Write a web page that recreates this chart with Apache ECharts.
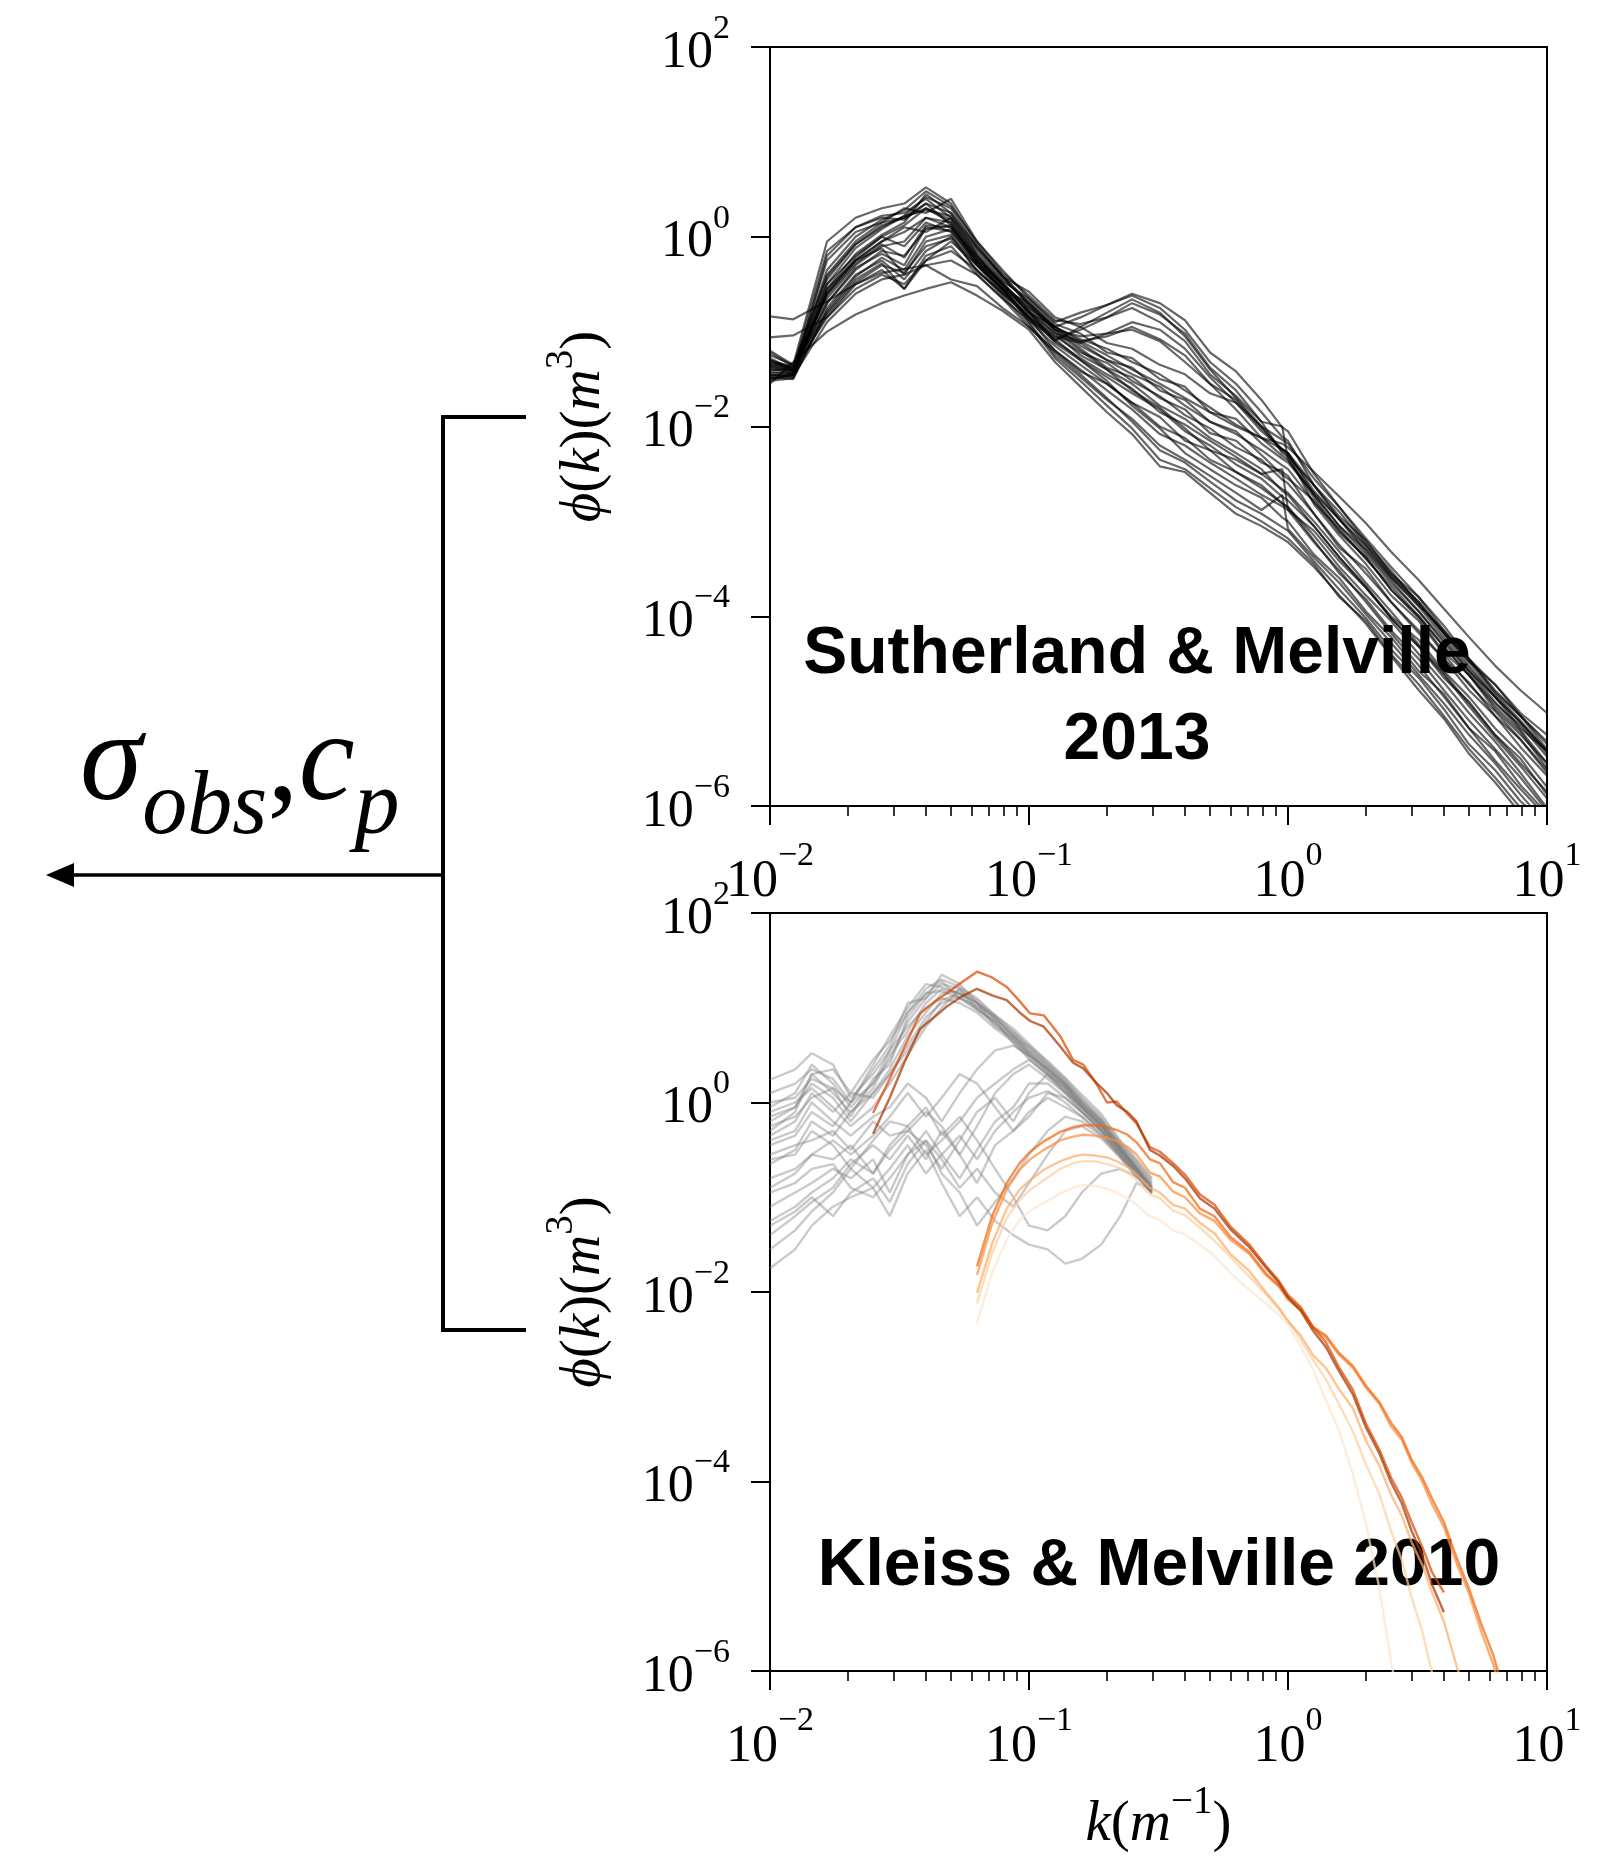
<!DOCTYPE html>
<html>
<head>
<meta charset="utf-8">
<script src="https://cdn.jsdelivr.net/npm/echarts@6/dist/echarts.min.js"></script>
<style>html,body{margin:0;padding:0;background:#fff}#c{width:1599px;height:1859px}</style>
</head>
<body>
<div id="c"></div>
<script>
// ---------------- DATA (phi values stored as log10 phi) ----------------
const majorK = [0.01, 0.1, 1, 10];
const minorK = [0.02,0.03,0.04,0.05,0.06,0.07,0.08,0.09,0.2,0.3,0.4,0.5,0.6,0.7,0.8,0.9,2,3,4,5,6,7,8,9];
const majorPhi = [1e-6, 1e-4, 1e-2, 1, 100];

// Sutherland & Melville 2013 (top panel)
const smK = [0.01,0.0123,0.0166,0.0214,0.027,0.033,0.04,0.05,0.063,0.079,0.1,0.126,0.158,0.2,0.25,0.32,0.4,0.5,0.63,0.79,0.95,1.0,1.26,1.58,2.0,2.5,3.2,4.0,5.0,6.3,7.9,10];
const smLogPhi = [
 [-1.30,-1.38,-0.15,0.10,0.20,0.18,0.35,0.12,-0.28,-0.55, -0.70,-0.98,-1.12,-1.30,-1.38,-1.62,-1.72,-1.95,-2.05,-2.30,-2.51,-2.55,-2.78,-3.12,-3.38,-3.72,-4.02,-4.38,-4.62,-4.98,-5.25,-5.55],
 [-1.45,-1.48,-0.55,-0.18,0.02,0.15,0.45,0.25,-0.18,-0.47, -0.65,-0.92,-1.02,-1.22,-1.28,-1.50,-1.58,-1.85,-1.92,-2.18,-2.34,-2.38,-2.70,-2.98,-3.32,-3.62,-3.95,-4.25,-4.58,-4.85,-5.18,-5.42],
 [-1.25,-1.35,-0.05,0.20,0.30,0.35,0.52,0.35,-0.08,-0.42, -0.58,-0.85,-0.95,-1.12,-1.18,-1.35,-1.45,-1.65,-1.75,-2.00,-2.14,-2.18,-2.55,-2.85,-3.22,-3.52,-3.88,-4.15,-4.48,-4.72,-5.02,-5.25],
 [-1.50,-1.45,-0.70,-0.33,-0.18,-0.30,0.10,0.06,-0.27,-0.53, -0.78,-1.10,-1.28,-1.45,-1.60,-1.85,-1.98,-2.15,-2.32,-2.50,-2.66,-2.70,-3.00,-3.32,-3.65,-3.95,-4.30,-4.60,-4.92,-5.25,-5.55,-5.85],
 [-1.35,-1.40,-0.60,-0.25,-0.12,-0.40,-0.05,0.02,-0.37,-0.58, -0.85,-1.20,-1.40,-1.62,-1.82,-2.08,-2.20,-2.38,-2.55,-2.72,-2.84,-2.88,-3.22,-3.52,-3.85,-4.18,-4.52,-4.85,-5.18,-5.52,-5.82,-6.12],
 [-1.40,-1.42,-0.45,-0.08,0.12,0.20,0.30,0.15,-0.25,-0.50, -0.80,-0.95,-0.85,-0.72,-0.62,-0.75,-0.98,-1.32,-1.55,-1.85,-2.11,-2.15,-2.62,-2.98,-3.28,-3.58,-3.90,-4.22,-4.55,-4.85,-5.12,-5.45],
 [-1.20,-1.35,-0.80,-0.45,-0.28,-0.55,-0.20,-0.10,-0.40,-0.65, -0.88,-1.08,-0.98,-0.85,-0.70,-0.82,-1.02,-1.38,-1.62,-1.95,-2.00,-2.35,-2.75,-3.10,-3.38,-3.72,-4.00,-4.32,-4.62,-4.95,-5.22,-5.60],
 [-0.84,-0.87,-0.68,-0.50,-0.38,-0.34,-0.30,-0.45,-0.52,-0.75, -0.95,-1.20,-1.42,-1.55,-1.75,-1.90,-2.15,-2.25,-2.48,-2.62,-2.81,-2.85,-3.15,-3.48,-3.78,-4.05,-4.40,-4.70,-5.02,-5.32,-5.65,-6.02],
 [-1.55,-1.32,-1.00,-0.82,-0.70,-0.62,-0.55,-0.48,-0.62,-0.78, -0.98,-1.32,-1.58,-1.85,-2.08,-2.42,-2.48,-2.70,-2.92,-3.05,-3.18,-3.22,-3.48,-3.78,-4.08,-4.42,-4.78,-5.08,-5.45,-5.75,-6.08,-6.30],
 [-1.06,-1.04,-0.85,-0.55,-0.40,-0.50,-0.25,-0.15,-0.35,-0.60, -0.82,-1.05,-1.22,-1.33,-1.52,-1.68,-1.88,-2.02,-2.22,-2.35,-2.56,-2.60,-2.92,-3.25,-3.55,-3.85,-4.18,-4.45,-4.78,-5.05,-5.38,-5.68],
 [-1.42,-1.45,-0.20,0.10,0.22,0.25,0.40,0.20,-0.15,-0.45, -0.68,-0.95,-1.08,-1.18,-1.32,-1.45,-1.62,-1.80,-1.98,-2.12,-2.24,-2.28,-2.62,-2.90,-3.25,-3.55,-3.85,-4.18,-4.45,-4.78,-5.05,-5.35],
 [-1.38,-1.44,-0.65,-0.30,-0.10,-0.05,0.20,0.15,-0.20,-0.50, -0.80,-1.02,-1.25,-1.40,-1.62,-1.80,-2.02,-2.25,-2.35,-2.50,-2.45,-2.88,-3.10,-3.42,-3.70,-4.02,-4.32,-4.65,-4.90,-5.25,-5.50,-5.88],
 [-1.48,-1.50,-0.75,-0.40,-0.25,-0.45,-0.15,0.00,-0.30,-0.55, -0.85,-1.08,-1.30,-1.52,-1.78,-2.02,-2.28,-2.45,-2.62,-2.75,-2.96,-3.00,-3.35,-3.60,-3.95,-4.22,-4.58,-4.82,-5.18,-5.42,-5.78,-6.08],
 [-1.32,-1.36,-0.40,-0.05,0.15,0.30,0.25,0.40,-0.05,-0.35, -0.65,-0.90,-0.80,-0.72,-0.60,-0.70,-0.88,-1.22,-1.42,-1.72,-2.01,-2.05,-2.50,-2.85,-3.18,-3.48,-3.80,-4.10,-4.45,-4.72,-5.05,-5.32],
 [-1.28,-1.40,-0.50,-0.20,0.00,-0.10,0.15,0.05,-0.30,-0.55, -0.85,-1.05,-1.12,-1.02,-0.98,-1.10,-1.32,-1.55,-1.72,-2.02,-2.24,-2.28,-2.72,-3.05,-3.35,-3.65,-3.95,-4.28,-4.58,-4.90,-5.20,-5.55],
 [-1.50,-1.47,-0.90,-0.60,-0.45,-0.40,-0.30,-0.25,-0.40,-0.65, -0.95,-1.22,-1.45,-1.70,-1.95,-2.25,-2.38,-2.58,-2.78,-2.92,-3.06,-3.10,-3.42,-3.72,-4.02,-4.35,-4.65,-4.98,-5.35,-5.62,-5.95,-6.20],
 [-1.36,-1.41,-0.25,0.05,0.15,0.20,0.35,0.25,-0.10,-0.40, -0.70,-0.95,-1.15,-1.30,-1.45,-1.58,-1.78,-1.95,-2.08,-2.25,-2.41,-2.45,-2.80,-3.08,-3.40,-3.68,-4.00,-4.32,-4.62,-4.92,-5.15,-5.48],
 [-1.44,-1.43,-0.55,-0.25,-0.05,0.10,0.05,0.20,-0.20,-0.50, -0.75,-1.00,-1.20,-1.40,-1.55,-1.78,-1.92,-2.12,-2.28,-2.45,-2.68,-2.72,-3.05,-3.38,-3.70,-4.00,-4.25,-4.58,-4.85,-5.18,-5.45,-5.80],
 [-1.40,-1.40,-0.60,-0.25,-0.05,0.05,0.20,0.10,-0.25,-0.50, -0.75,-0.95,-1.10,-1.25,-1.40,-1.55,-1.70,-1.85,-2.00,-2.12,-2.18,-2.22,-2.48,-2.74,-3.02,-3.32,-3.62,-3.92,-4.22,-4.52,-4.78,-5.02],
 [-1.33,-1.39,-0.85,-0.50,-0.35,-0.55,-0.25,-0.05,-0.30,-0.60, -0.85,-1.10,-0.95,-0.80,-0.66,-0.80,-1.05,-1.40,-1.70,-2.00,-2.26,-2.30,-2.82,-3.15,-3.45,-3.78,-4.05,-4.40,-4.72,-5.00,-5.30,-5.65],
 [-1.46,-1.46,-0.50,-0.12,0.08,0.22,0.42,0.30,-0.12,-0.42, -0.72,-0.98,-1.18,-1.38,-1.48,-1.70,-1.82,-2.07,-2.15,-2.38,-2.48,-2.52,-2.92,-3.28,-3.50,-3.85,-4.15,-4.45,-4.70,-5.05,-5.30,-5.62],
 [-1.22,-1.37,-0.62,-0.28,-0.08,-0.22,0.12,0.10,-0.22,-0.48, -0.78,-1.02,-1.10,-1.05,-0.95,-1.08,-1.25,-1.55,-1.82,-2.12,-2.31,-2.35,-2.72,-3.05,-3.30,-3.60,-3.88,-4.18,-4.52,-4.85,-5.12,-5.42],
 [-1.52,-1.49,-0.78,-0.42,-0.22,-0.35,0.00,0.08,-0.28,-0.57, -0.88,-1.15,-1.35,-1.55,-1.75,-2.00,-2.12,-2.35,-2.48,-2.65,-2.81,-2.85,-3.20,-3.55,-3.82,-4.15,-4.45,-4.78,-5.10,-5.40,-5.70,-6.05],
 [-1.30,-1.42,-0.35,0.00,0.18,0.28,0.48,0.32,-0.05,-0.38, -0.62,-0.88,-0.92,-0.85,-0.75,-0.90,-1.10,-1.45,-1.68,-1.95,-2.28,-2.32,-2.62,-2.95,-3.20,-3.55,-3.80,-4.15,-4.45,-4.80,-5.05,-5.40],
 [-1.47,-1.44,-0.58,-0.22,0.00,0.12,0.30,0.18,-0.22,-0.52, -0.90,-1.25,-1.48,-1.72,-1.92,-2.20,-2.35,-2.52,-2.70,-2.88,-2.72,-3.08,-3.38,-3.65,-3.98,-4.28,-4.62,-4.92,-5.25,-5.55,-5.88,-6.20],
 [-1.37,-1.41,-0.70,-0.35,-0.15,-0.20,0.08,0.12,-0.25,-0.55, -0.80,-1.12,-1.30,-1.48,-1.65,-1.82,-2.05,-2.20,-2.40,-2.55,-2.74,-2.78,-3.05,-3.38,-3.68,-4.02,-4.32,-4.62,-4.95,-5.28,-5.58,-5.92],
 [-1.34,-1.38,-0.42,-0.08,0.10,0.22,0.28,0.22,-0.12,-0.42, -0.72,-0.98,-1.05,-1.02,-0.90,-0.98,-1.18,-1.48,-1.75,-2.05,-2.24,-2.28,-2.68,-2.98,-3.25,-3.58,-3.85,-4.18,-4.48,-4.82,-5.10,-5.42],
 [-1.49,-1.46,-0.82,-0.48,-0.30,-0.38,-0.10,-0.02,-0.35,-0.62, -0.92,-1.28,-1.52,-1.78,-2.02,-2.35,-2.45,-2.65,-2.85,-3.00,-3.14,-3.18,-3.45,-3.80,-4.05,-4.40,-4.72,-5.05,-5.40,-5.70,-6.02,-6.25]
];

// Kleiss & Melville 2010 (bottom panel) - grey spectra
const kmGrayK = [0.01,0.0125,0.0145,0.0175,0.0205,0.025,0.029,0.034,0.04,0.046,0.054,0.063,0.074,0.087,0.1,0.118,0.138,0.16,0.19,0.225,0.26,0.298];
const kmGrayLogPhi = [
 [0.24,0.35,0.52,0.40,0.05,0.30,0.55,0.95,1.20,1.30,1.22,1.10,0.92,0.78,0.62,0.42,0.25,0.05,-0.15,-0.42,-0.62,-0.82],
 [-0.05,0.10,0.40,0.20,-0.05,0.20,0.45,0.85,1.10,1.35,1.25,1.05,0.88,0.72,0.55,0.38,0.20,0.00,-0.20,-0.48,-0.70,-0.90],
 [-0.30,-0.10,0.30,0.10,-0.10,0.15,0.50,0.75,1.05,1.20,1.15,1.00,0.85,0.66,0.52,0.32,0.15,-0.05,-0.25,-0.50,-0.72,-0.92],
 [0.10,0.20,0.35,0.25,0.00,0.35,0.60,1.05,1.10,1.25,1.20,1.08,0.90,0.70,0.58,0.40,0.22,0.02,-0.18,-0.45,-0.66,-0.86],
 [-0.20,-0.05,0.20,0.05,-0.20,0.10,0.35,0.70,0.95,1.15,1.18,1.05,0.80,0.68,0.50,0.35,0.18,-0.02,-0.22,-0.50,-0.68,-0.95],
 [-0.35,-0.20,0.10,-0.10,0.10,0.05,0.30,0.60,0.90,1.05,1.12,0.98,0.86,0.62,0.48,0.30,0.12,-0.08,-0.28,-0.52,-0.74,-0.94],
 [0.00,0.05,0.25,0.15,-0.15,0.25,0.40,0.90,1.15,1.28,1.10,1.02,0.90,0.74,0.60,0.44,0.26,0.08,-0.12,-0.40,-0.60,-0.80],
 [-0.45,-0.35,-0.10,-0.25,0.00,0.20,0.55,0.80,1.00,1.10,1.05,0.95,0.78,0.64,0.46,0.28,0.10,-0.10,-0.30,-0.55,-0.75,-0.96],
 [-0.10,0.00,0.15,-0.05,-0.25,-0.05,0.20,0.50,0.80,1.00,1.20,1.00,0.84,0.70,0.54,0.36,0.20,0.00,-0.20,-0.46,-0.68,-0.88],
 [-0.25,-0.15,0.05,0.15,0.00,0.40,0.70,1.00,1.25,1.22,1.15,1.05,0.92,0.75,0.58,0.40,0.22,0.03,-0.18,-0.44,-0.64,-0.85],
 [-0.15,-0.05,0.30,0.35,0.10,0.45,0.65,0.95,1.15,1.18,1.10,0.98,0.82,0.66,0.50,0.33,0.16,-0.04,-0.24,-0.50,-0.70,-0.90],
 [-0.65,-0.50,-0.20,-0.35,-0.10,0.10,0.30,0.55,0.85,1.08,1.15,1.05,0.88,0.70,0.53,0.36,0.18,-0.03,-0.23,-0.49,-0.71,-0.91],
 [-0.55,-0.45,-0.40,-0.30,-0.50,-0.20,-0.35,-0.30,-0.10,-0.25,-0.55,-0.25,0.10,0.30,0.40,0.25,0.10,-0.05,-0.25,-0.50,-0.70,-0.90],
 [-0.80,-0.70,-0.55,-0.60,-0.45,-0.75,-0.50,-0.30,-0.45,-0.70,-0.40,-0.10,0.05,-0.20,0.10,0.30,0.15,-0.05,-0.28,-0.52,-0.72,-0.93],
 [-1.10,-0.95,-0.85,-0.70,-0.80,-0.60,-0.95,-0.55,-0.30,-0.55,-0.80,-0.50,-0.20,-0.05,0.20,0.20,0.05,-0.10,-0.30,-0.55,-0.76,-0.95],
 [-1.40,-1.20,-1.05,-0.90,-0.65,-0.45,-0.60,-0.35,-0.60,-0.30,-0.55,-0.85,-0.45,-0.30,-0.10,0.05,-0.05,-0.15,-0.35,-0.58,-0.78,-0.96],
 [-1.75,-1.55,-1.30,-1.10,-1.00,-0.90,-1.20,-0.75,-0.50,-0.85,-1.20,-1.00,-1.25,-1.40,-1.50,-1.55,-1.70,-1.65,-1.50,-1.20,-0.85,-0.92],
 [-0.95,-0.85,-0.70,-0.65,-0.90,-1.00,-0.80,-0.55,-0.40,-0.75,-0.95,-1.30,-1.05,-0.80,-0.55,-0.30,-0.15,-0.20,-0.35,-0.55,-0.75,-0.92],
 [-0.60,-0.55,-0.30,-0.45,-0.70,-0.40,-0.20,-0.25,-0.05,-0.35,-0.15,-0.40,-0.70,-1.00,-1.30,-1.35,-1.20,-0.95,-0.75,-0.70,-0.78,-0.90],
 [-1.25,-1.10,-0.95,-0.80,-0.60,-0.75,-0.45,-0.25,-0.55,-0.40,-0.20,0.05,0.20,0.35,0.45,0.30,0.12,-0.05,-0.25,-0.48,-0.70,-0.91],
 [-0.40,-0.30,0.00,-0.20,-0.35,-0.15,-0.05,0.20,0.05,-0.20,0.10,0.35,0.55,0.60,0.50,0.35,0.18,-0.02,-0.22,-0.47,-0.69,-0.89],
 [-1.55,-1.35,-1.15,-0.95,-0.70,-0.90,-0.70,-0.45,-0.75,-0.55,-0.35,-0.60,-0.30,-0.10,0.05,0.12,0.00,-0.15,-0.32,-0.56,-0.76,-0.94],
 [-0.90,-0.75,-0.55,-0.40,-0.55,-0.35,-0.15,0.10,-0.15,0.05,0.30,0.20,-0.05,-0.30,-0.15,0.10,0.05,-0.10,-0.30,-0.53,-0.74,-0.93],
 [-1.30,-1.15,-1.00,-1.20,-0.95,-0.80,-1.05,-0.65,-0.40,-0.60,-0.90,-0.70,-0.95,-1.10,-0.85,-0.55,-0.30,-0.25,-0.38,-0.58,-0.78,-0.95]
];

// Kleiss & Melville 2010 - coloured spectra (Oranges), null = not measured
const kmOrangeK = [0.025,0.029,0.033,0.038,0.043,0.048,0.055,0.063,0.072,0.082,0.092,0.101,0.114,0.132,0.148,0.162,0.18,0.2,0.218,0.24,0.26,0.293,0.32,0.36,0.4,0.457,0.52,0.6,0.71,0.82,0.92,1.0,1.12,1.25,1.4,1.57,1.78,2.0,2.25,2.5,2.75,3.0,3.3,3.6,4.0,4.5,5.0,5.6,6.2,6.8];
const kmRun1 = [null,null,null,null,null,null,null,-2.33,-1.80,-1.45,-1.24,-1.14,-1.06,-0.96,-0.90,-0.87,-0.88,-0.91,-0.95,-1.01,-1.08,-1.20,-1.24,-1.35,-1.39,-1.50,-1.62,-1.80,-1.98,-2.12,-2.24,-2.34,-2.58,-2.82,-3.14,-3.46,-3.92,-4.45,-5.12,-5.90,-6.50,null,null,null,null,null,null,null,null,null];
const kmRun2 = [null,null,null,null,null,null,null,-2.12,-1.59,-1.22,-1.03,-0.92,-0.82,-0.70,-0.64,-0.62,-0.62,-0.65,-0.68,-0.74,-0.82,-0.97,-1.01,-1.14,-1.19,-1.32,-1.46,-1.63,-1.84,-2.02,-2.18,-2.30,-2.50,-2.72,-2.92,-3.18,-3.47,-3.82,-4.13,-4.52,-4.83,-5.22,-5.58,-6.02,-6.45,null,null,null,null,null];
const kmRun3 = [null,null,null,null,null,null,null,-2.01,-1.49,-1.12,-0.92,-0.82,-0.71,-0.62,-0.57,-0.55,-0.56,-0.58,-0.62,-0.68,-0.76,-0.90,-0.95,-1.08,-1.12,-1.27,-1.38,-1.60,-1.78,-2.00,-2.16,-2.31,-2.46,-2.67,-2.80,-3.02,-3.23,-3.57,-3.83,-4.14,-4.36,-4.64,-4.88,-5.17,-5.48,-5.97,-6.30,null,null,null];
const kmRun4 = [null,null,null,null,null,null,null,-1.82,-1.28,-0.92,-0.71,-0.60,-0.50,-0.40,-0.36,-0.34,-0.35,-0.37,-0.41,-0.47,-0.55,-0.74,-0.78,-0.94,-1.00,-1.17,-1.25,-1.45,-1.60,-1.82,-1.94,-2.08,-2.19,-2.38,-2.48,-2.66,-2.80,-3.01,-3.18,-3.42,-3.56,-3.80,-4.00,-4.24,-4.48,-4.88,-5.18,-5.60,-5.93,-6.32];
const kmRun5 = [null,null,null,null,null,null,null,-1.73,-1.20,-0.85,-0.64,-0.52,-0.41,-0.31,-0.26,-0.24,-0.24,-0.26,-0.29,-0.34,-0.42,-0.60,-0.64,-0.84,-0.90,-1.12,-1.20,-1.42,-1.58,-1.80,-1.93,-2.06,-2.18,-2.37,-2.46,-2.64,-2.78,-2.99,-3.16,-3.38,-3.53,-3.77,-3.96,-4.18,-4.43,-4.82,-5.13,-5.52,-5.83,-6.22];
const kmRun6 = [-0.11,0.25,0.58,0.94,1.06,1.15,1.27,1.38,1.32,1.22,1.07,0.94,0.92,0.70,0.45,0.40,0.22,0.00,0.01,-0.12,-0.22,-0.47,-0.52,-0.64,-0.76,-0.97,-1.08,-1.31,-1.50,-1.72,-1.88,-2.03,-2.16,-2.37,-2.53,-2.79,-3.03,-3.39,-3.66,-3.96,-4.17,-4.43,-4.69,-4.96,-5.17,null,null,null,null,null];
const kmRun7 = [-0.33,0.05,0.42,0.78,0.90,1.01,1.12,1.20,1.13,1.08,0.95,0.86,0.80,0.59,0.42,0.36,0.22,0.10,-0.03,-0.10,-0.20,-0.50,-0.56,-0.67,-0.80,-1.01,-1.12,-1.34,-1.53,-1.74,-1.90,-2.06,-2.20,-2.41,-2.58,-2.83,-3.08,-3.43,-3.70,-4.01,-4.23,-4.52,-4.78,-5.09,-5.38,null,null,null,null,null];
const kmRuns = [kmRun1, kmRun2, kmRun3, kmRun4, kmRun5, kmRun6, kmRun7];
const kmRunColors = ['#fee6ce','#fdd0a2','#fdae6b','#fd8d3c','#f16913','#d94801','#a63603'];

// ---------------- CHART ----------------
const SERIF = '"Liberation Serif","Times New Roman",serif';
const SANS = '"Liberation Sans",Arial,Helvetica,sans-serif';

function toPairs(ks, logs) {
  const out = [];
  for (let i = 0; i < ks.length; i++) {
    if (logs[i] === null || logs[i] === undefined) continue;
    out.push([ks[i], Math.pow(10, logs[i])]);
  }
  return out;
}
function sciLabel(v) {
  const e = Math.round(Math.log10(v));
  return '{b|10}{s|' + (e < 0 ? '\u2212' + (-e) : String(e)) + '}';
}
const xRich = {
  b: {fontFamily: SERIF, fontSize: 52, color: '#000'},
  s: {fontFamily: SERIF, fontSize: 34, color: '#000', padding: [0, 0, 52, 0]}
};
const yRich = {
  b: {fontFamily: SERIF, fontSize: 52, color: '#000', padding: [12, 0, 0, 0]},
  s: {fontFamily: SERIF, fontSize: 34, color: '#000', padding: [0, 0, 36, 0]}
};
const nameRich = {
  i: {fontFamily: SERIF, fontStyle: 'italic', fontSize: 57, color: '#000'},
  r: {fontFamily: SERIF, fontSize: 57, color: '#000'},
  s: {fontFamily: SERIF, fontSize: 39, color: '#000', padding: [0, 0, 46, 0]}
};

function xMajor(gridIndex, name) {
  const ax = {
    type: 'log', logBase: 10, gridIndex: gridIndex, min: 0.01, max: 10, position: 'bottom',
    axisLine: {show: true, onZero: false, lineStyle: {color: '#000', width: 2}},
    axisTick: {show: true, inside: false, length: 19, lineStyle: {color: '#000', width: 2}, customValues: majorK},
    axisLabel: {show: true, customValues: majorK, formatter: sciLabel, rich: xRich, margin: 33,
                showMinLabel: true, showMaxLabel: true, hideOverlap: false},
    splitLine: {show: false}, minorTick: {show: false}, minorSplitLine: {show: false}
  };
  if (name) {
    ax.name = name; ax.nameLocation = 'middle'; ax.nameGap = 112;
    ax.nameTextStyle = {rich: nameRich};
  }
  return ax;
}
function xMinor(gridIndex) {
  return {
    type: 'log', logBase: 10, gridIndex: gridIndex, min: 0.01, max: 10, position: 'bottom',
    axisLine: {show: false},
    axisTick: {show: true, inside: false, length: 10, lineStyle: {color: '#000', width: 1.6}, customValues: minorK},
    axisLabel: {show: false}, splitLine: {show: false}
  };
}
function yMajor(gridIndex) {
  return {
    type: 'log', logBase: 10, gridIndex: gridIndex, min: 1e-6, max: 100, position: 'left',
    axisLine: {show: true, onZero: false, lineStyle: {color: '#000', width: 2}},
    axisTick: {show: true, inside: false, length: 19, lineStyle: {color: '#000', width: 2}, customValues: majorPhi},
    axisLabel: {show: true, customValues: majorPhi, formatter: sciLabel, rich: yRich, margin: 40,
                showMinLabel: true, showMaxLabel: true, hideOverlap: false},
    splitLine: {show: false}, minorTick: {show: false},
    name: '{i|\u03d5}{r|(}{i|k}{r|)(}{i|m}{s|3}{r|)}', nameLocation: 'middle', nameRotate: 90, nameGap: 143,
    nameTextStyle: {rich: nameRich}
  };
}

const series = [];
smLogPhi.forEach(function (arr) {
  series.push({type: 'line', xAxisIndex: 0, yAxisIndex: 0, data: toPairs(smK, arr), symbol: 'none',
    showSymbol: false, silent: true, animation: false, z: 2, clip: true,
    lineStyle: {color: 'rgba(0,0,0,0.6)', width: 2.2}});
});
kmGrayLogPhi.forEach(function (arr) {
  series.push({type: 'line', xAxisIndex: 2, yAxisIndex: 1, data: toPairs(kmGrayK, arr), symbol: 'none',
    showSymbol: false, silent: true, animation: false, z: 2, clip: true,
    lineStyle: {color: 'rgba(128,128,128,0.42)', width: 2.4}});
});
kmRuns.forEach(function (arr, i) {
  series.push({type: 'line', xAxisIndex: 2, yAxisIndex: 1, data: toPairs(kmOrangeK, arr), symbol: 'none',
    showSymbol: false, silent: true, animation: false, z: 3, clip: true,
    lineStyle: {color: kmRunColors[i], width: 2.4, opacity: 0.72}});
});

const option = {
  backgroundColor: '#fff',
  animation: false,
  grid: [
    {left: 770, top: 47, width: 777, height: 759, show: true, borderColor: '#000', borderWidth: 2,
     backgroundColor: 'transparent', containLabel: false, outerBoundsMode: 'none'},
    {left: 770, top: 913, width: 777, height: 758, show: true, borderColor: '#000', borderWidth: 2,
     backgroundColor: 'transparent', containLabel: false, outerBoundsMode: 'none'}
  ],
  xAxis: [xMajor(0, null), xMinor(0), xMajor(1, '{i|k}{r|(}{i|m}{s|\u22121}{r|)}'), xMinor(1)],
  yAxis: [yMajor(0), yMajor(1)],
  series: series,
  graphic: [
    {type: 'text', x: 1137, y: 612, z: 1, silent: true,
     style: {text: 'Sutherland & Melville\n2013', font: 'bold 66px ' + SANS, fill: '#000',
             align: 'center', verticalAlign: 'top', textAlign: 'center', textVerticalAlign: 'top', lineHeight: 86}},
    {type: 'text', x: 1159, y: 1567, z: 1, silent: true,
     style: {text: 'Kleiss & Melville 2010', font: 'bold 66px ' + SANS, fill: '#000',
             align: 'center', verticalAlign: 'middle', textAlign: 'center', textVerticalAlign: 'middle'}},
    {type: 'polyline', z: 1, silent: true,
     shape: {points: [[526, 417], [443, 417], [443, 1330], [526, 1330]]},
     style: {stroke: '#000', lineWidth: 4, fill: null}},
    {type: 'line', z: 1, silent: true,
     shape: {x1: 443, y1: 875, x2: 70, y2: 875},
     style: {stroke: '#000', lineWidth: 3.5}},
    {type: 'polygon', z: 1, silent: true,
     shape: {points: [[46, 875], [74, 863], [74, 887]]},
     style: {fill: '#000'}},
    {type: 'text', x: 80, y: 766, z: 1, silent: true,
     style: {text: '{m|\u03c3}{sub|obs}{c|,}{m|c}{sub|p}', align: 'left', verticalAlign: 'middle',
             textAlign: 'left', textVerticalAlign: 'middle',
             rich: {
               m: {fontFamily: SERIF, fontStyle: 'italic', fontSize: 126, fill: '#000'},
               c: {fontFamily: SERIF, fontSize: 126, fill: '#000'},
               sub: {fontFamily: SERIF, fontStyle: 'italic', fontSize: 90, fill: '#000', padding: [86, 0, 0, 0]}
             }}}
  ]
};

const chart = echarts.init(document.getElementById('c'), null, {renderer: 'canvas'});
chart.setOption(option);
</script>
</body>
</html>
